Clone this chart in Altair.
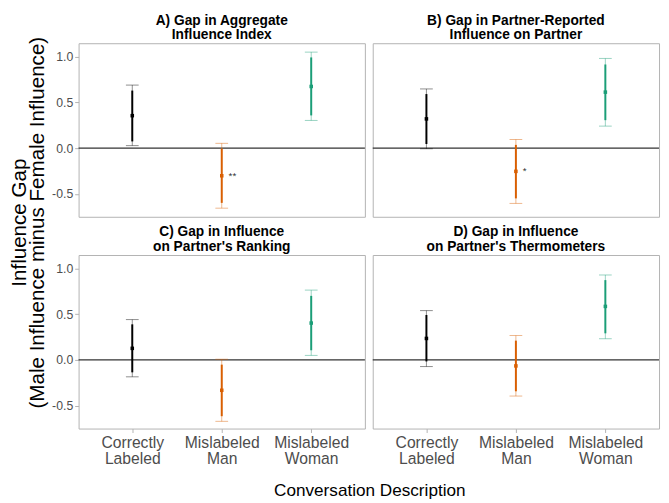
"""Influence gap by conversation description: four panels of point estimates with 90%/95% CIs."""

import altair as alt
import pandas as pd


FONT = "Liberation Sans"
INK = "#000000"
ORANGE = "#D95F02"
GREEN = "#1B9E77"
LABEL_GREY = "#4d4d4d"
BORDER = "#b3b3b3"
ZERO_LINE = "#333333"

categories = ["Correctly Labeled", "Mislabeled Man", "Mislabeled Woman"]
category_colors = [INK, ORANGE, GREEN]
y_ticks = [-0.5, 0.0, 0.5, 1.0]

# A) aggregate influence index
a_title = ["A) Gap in Aggregate", "Influence Index"]
a_est = [0.354, -0.302, 0.673]
a_lo95 = [0.027, -0.656, 0.302]
a_hi95 = [0.688, 0.052, 1.048]
a_lo90 = [0.073, -0.598, 0.357]
a_hi90 = [0.628, -0.005, 0.990]
a_stars = ["", "**", ""]

# B) partner-reported influence
b_title = ["B) Gap in Partner-Reported", "Influence on Partner"]
b_est = [0.319, -0.254, 0.611]
b_lo95 = [-0.007, -0.604, 0.240]
b_hi95 = [0.646, 0.094, 0.979]
b_lo90 = [0.045, -0.549, 0.305]
b_hi90 = [0.590, 0.035, 0.913]
b_stars = ["", "*", ""]

# C) partner's ranking
c_title = ["C) Gap in Influence", "on Partner's Ranking"]
c_est = [0.126, -0.332, 0.402]
c_lo95 = [-0.185, -0.671, 0.049]
c_hi95 = [0.440, 0.007, 0.762]
c_lo90 = [-0.136, -0.615, 0.105]
c_hi90 = [0.388, -0.052, 0.699]
c_stars = ["", "", ""]

# D) partner's thermometers
d_title = ["D) Gap in Influence", "on Partner's Thermometers"]
d_est = [0.234, -0.066, 0.584]
d_lo95 = [-0.073, -0.395, 0.231]
d_hi95 = [0.538, 0.266, 0.927]
d_lo90 = [-0.017, -0.343, 0.290]
d_hi90 = [0.490, 0.210, 0.871]
d_stars = ["", "", ""]

PANEL_W = 292
PANEL_H = 177
Y_SCALE = alt.Scale(domain=[-0.75, 1.145], nice=False, zero=False)


def panel(title, est, lo95, hi95, lo90, hi90, stars, show_x, show_y):
    df = pd.DataFrame({
        "category": categories,
        "est": est,
        "lo95": lo95,
        "hi95": hi95,
        "lo90": lo90,
        "hi90": hi90,
        "stars": stars,
    })

    x_axis = alt.Axis(
        labelExpr="split(datum.label, ' ')",
        labelAngle=0,
        labelFontSize=16,
        labelLineHeight=17,
        labelColor=LABEL_GREY,
        labelPadding=2,
        tickColor=BORDER,
        tickSize=4,
        domain=False,
    ) if show_x else None
    y_axis = alt.Axis(
        values=y_ticks,
        labelExpr="datum.value < 0 ? '-' + format(-datum.value, '.1f') : format(datum.value, '.1f')",
        labelFontSize=12.5,
        labelColor=LABEL_GREY,
        labelPadding=2,
        tickColor=BORDER,
        tickSize=4,
        domain=False,
        grid=False,
    ) if show_y else None

    def y(field):
        return alt.Y(f"{field}:Q", scale=Y_SCALE, axis=y_axis, title=None)

    x = alt.X(
        "category:N",
        sort=categories,
        scale=alt.Scale(type="point", domain=categories, padding=0.6),
        axis=x_axis,
        title=None,
    )
    color = alt.Color(
        "category:N",
        scale=alt.Scale(domain=categories, range=category_colors),
        legend=None,
    )

    zero = (
        alt.Chart(pd.DataFrame({"zero": [0.0]}))
        .mark_rule(color=ZERO_LINE, strokeWidth=1.1)
        .encode(y=y("zero"))
    )
    base = alt.Chart(df).encode(x=x, color=color)
    ci95 = base.mark_rule(strokeWidth=1, opacity=0.45).encode(y=y("lo95"), y2="hi95:Q")
    cap_lo = base.mark_tick(thickness=1, size=13, opacity=0.45).encode(y=y("lo95"))
    cap_hi = base.mark_tick(thickness=1, size=13, opacity=0.45).encode(y=y("hi95"))
    ci90 = base.mark_rule(strokeWidth=2).encode(y=y("lo90"), y2="hi90:Q")
    point = base.mark_point(shape="square", filled=True, size=13, opacity=1).encode(y=y("est"))
    star = base.mark_text(align="left", baseline="middle", dx=7, fontSize=10).encode(
        y=y("est"), text="stars:N", color=alt.value(ZERO_LINE)
    )

    return alt.layer(zero, ci95, cap_lo, cap_hi, ci90, point, star).properties(
        width=PANEL_W,
        height=PANEL_H,
        title=alt.TitleParams(
            text=title,
            font=FONT,
            fontSize=14,
            fontWeight="bold",
            color=INK,
            anchor="middle",
            lineHeight=15,
            offset=1,
        ),
    )


pa = panel(a_title, a_est, a_lo95, a_hi95, a_lo90, a_hi90, a_stars, False, True)
pb = panel(b_title, b_est, b_lo95, b_hi95, b_lo90, b_hi90, b_stars, False, False)
pc = panel(c_title, c_est, c_lo95, c_hi95, c_lo90, c_hi90, c_stars, True, True)
pd_ = panel(d_title, d_est, d_lo95, d_hi95, d_lo90, d_hi90, d_stars, True, False)

grid = alt.vconcat(
    alt.hconcat(pa, pb, spacing=4),
    alt.hconcat(pc, pd_, spacing=4),
    spacing=7,
).properties(
    title=alt.TitleParams(
        text=["Influence Gap", "(Male Influence minus Female Influence)"],
        orient="left",
        anchor="middle",
        font=FONT,
        fontSize=21,
        fontWeight="normal",
        color=INK,
        lineHeight=19,
        offset=3,
        dx=18,
    )
)

chart = (
    alt.vconcat(grid)
    .properties(
        title=alt.TitleParams(
            text="Conversation Description",
            orient="bottom",
            anchor="middle",
            font=FONT,
            fontSize=17.5,
            fontWeight="normal",
            color=INK,
            offset=15,
            dx=36,
        ),
        padding={"left": 0, "top": 0, "right": 0, "bottom": 0},
    )
    .configure(font=FONT)
    .configure_view(stroke=BORDER, strokeWidth=1)
)

chart.save("out.html", embed_options={"renderer": "svg", "actions": False})
